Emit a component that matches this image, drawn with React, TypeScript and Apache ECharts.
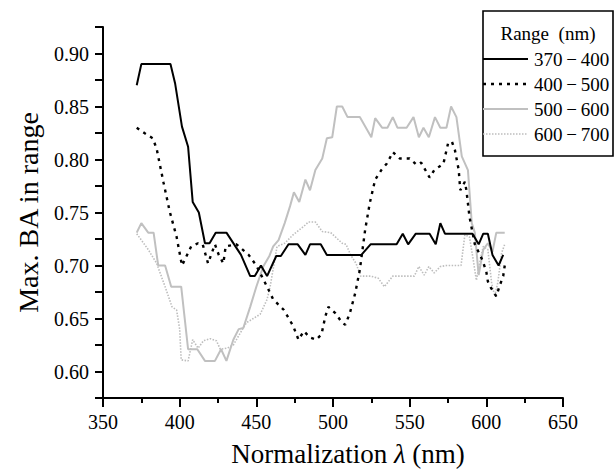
import React, { useEffect, useRef } from "react";
import * as echarts from "echarts";

const seriesNames = ["370\u2009\u2212\u2009400", "400\u2009\u2212\u2009500", "500\u2009\u2212\u2009600", "600\u2009\u2212\u2009700"];
const legendTitle = "Range  (nm)";
const xTicks = [350, 400, 450, 500, 550, 600, 650];
const yTicks = [0.6, 0.65, 0.7, 0.75, 0.8, 0.85, 0.9];

const range370to400 = [
  [372, 0.87], [375, 0.89], [394, 0.89], [397, 0.872], [401.5, 0.831], [405.5, 0.812],
  [408.5, 0.76], [412.5, 0.75], [416.5, 0.721], [419.5, 0.721], [423.5, 0.731], [430.5, 0.731],
  [440, 0.71], [446, 0.69], [449, 0.69], [453, 0.7], [457, 0.69], [463, 0.709], [466, 0.709],
  [471, 0.72], [477, 0.72], [482, 0.71], [485, 0.72], [492, 0.72], [496, 0.71], [518.5, 0.71],
  [524.5, 0.72], [541.5, 0.72], [545.5, 0.73], [549, 0.72], [554, 0.73], [563, 0.73],
  [567, 0.72], [570, 0.74], [573, 0.73], [591, 0.73], [595, 0.72], [598, 0.73], [601, 0.73],
  [604, 0.71], [608, 0.7], [611, 0.71],
];

const range400to500 = [
  [372, 0.83], [377, 0.825], [382.5, 0.82], [385, 0.81], [389.5, 0.778], [393.5, 0.751],
  [398, 0.727], [401.5, 0.7], [404.5, 0.709], [407.5, 0.718], [412, 0.721], [415, 0.72],
  [418.5, 0.702], [423, 0.72], [425.5, 0.71], [428.5, 0.702], [430, 0.718], [437, 0.72],
  [445, 0.71], [450, 0.7], [457, 0.68], [461, 0.668], [468, 0.658], [474, 0.643], [477.5, 0.63],
  [481, 0.638], [485, 0.632], [489, 0.63], [492.5, 0.635], [495, 0.652], [497, 0.661],
  [501.5, 0.655], [506, 0.646], [508, 0.644], [511, 0.655], [514.5, 0.674], [517.5, 0.696],
  [521, 0.734], [524, 0.759], [527.5, 0.781], [531.5, 0.79], [535, 0.796], [538, 0.804],
  [539, 0.807], [543.5, 0.801], [550, 0.801], [554.5, 0.795], [557.5, 0.797], [563, 0.783],
  [566, 0.79], [572, 0.796], [575, 0.815], [577.5, 0.817], [579.5, 0.809], [582, 0.79],
  [583, 0.771], [586, 0.779], [587, 0.771], [589, 0.746], [592.5, 0.72], [597.5, 0.705],
  [600, 0.694], [601, 0.685], [603, 0.679], [606.5, 0.671], [608.5, 0.68], [611, 0.69], [612, 0.7],
];

const range500to600 = [
  [372, 0.731], [375, 0.74], [379.5, 0.731], [383, 0.731], [386, 0.7], [390.5, 0.7],
  [394.5, 0.68], [401, 0.68], [405.5, 0.621], [411.5, 0.621], [416.5, 0.61], [423, 0.61],
  [427, 0.621], [430.5, 0.61], [435, 0.63], [438.5, 0.64], [441.5, 0.641], [446, 0.661],
  [450, 0.68], [454.5, 0.699], [458.5, 0.709], [461, 0.718], [464.5, 0.724], [468.5, 0.74],
  [472, 0.756], [474.5, 0.769], [478, 0.76], [482, 0.781], [485, 0.771], [488.5, 0.79],
  [493, 0.801], [496, 0.82], [499.5, 0.821], [502.5, 0.85], [506, 0.85], [509.5, 0.84],
  [517.5, 0.84], [525, 0.821], [527.5, 0.839], [532, 0.83], [535.5, 0.83], [539, 0.84],
  [542, 0.83], [548, 0.83], [552.5, 0.84], [556, 0.821], [559, 0.83], [562.5, 0.821],
  [566.5, 0.84], [570, 0.83], [574, 0.83], [577, 0.85], [580.5, 0.84], [584, 0.803],
  [588, 0.79], [590.5, 0.74], [592.5, 0.731], [595, 0.691], [598, 0.715], [601, 0.721],
  [604, 0.713], [606.5, 0.731], [612, 0.731],
];

const range600to700 = [
  [372, 0.73], [379.5, 0.715], [385, 0.702], [390.5, 0.68], [395, 0.661], [398, 0.658],
  [400, 0.64], [401, 0.611], [405.5, 0.61], [408.5, 0.63], [412, 0.622], [415.5, 0.629],
  [420, 0.631], [424, 0.629], [426.5, 0.621], [431, 0.622], [435, 0.625], [439, 0.635],
  [443.5, 0.646], [448, 0.65], [452.5, 0.654], [457, 0.668], [459, 0.68], [463.5, 0.718],
  [468.5, 0.721], [474, 0.729], [481, 0.737], [484, 0.741], [488.5, 0.741], [493, 0.732],
  [498.5, 0.731], [501.5, 0.727], [506, 0.721], [508.5, 0.72], [511.5, 0.71], [515, 0.702],
  [518, 0.69], [524.5, 0.69], [529.5, 0.688], [533.5, 0.68], [539, 0.69], [553, 0.69],
  [556, 0.699], [559.5, 0.691], [562.5, 0.699], [566, 0.693], [570, 0.699], [574, 0.7],
  [583.5, 0.7], [586, 0.729], [589, 0.727], [591.5, 0.705], [593.5, 0.686], [596, 0.705],
  [598, 0.718], [601, 0.715], [603.5, 0.683], [605.5, 0.671], [607.5, 0.684], [610, 0.712],
  [612, 0.72],
];

const FONT = "'Liberation Serif', 'Times New Roman', serif";

const lineStyles = [
  { color: "#000000", width: 2, type: "solid" as any },
  { color: "#000000", width: 2.4, type: [3, 5] as any },
  { color: "#c0c0c0", width: 2, type: "solid" as any },
  { color: "#bdbdbd", width: 1.6, type: [1.5, 1.5] as any },
];

export default function App() {
  const ref = useRef<HTMLDivElement>(null);
  useEffect(() => {
    document.body.style.margin = "0";
    if (!ref.current) return;
    const chart = echarts.init(ref.current, undefined, { renderer: "svg" });
    const datasets = [range370to400, range400to500, range500to600, range600to700];
    const zs = [5, 4, 3, 2];

    const legendX = 483;
    const legendY = 11;
    const rowY = [59, 84, 109, 134];
    const legendGraphics: any[] = [
      {
        type: "rect",
        shape: { x: legendX, y: legendY, width: 130, height: 145 },
        style: { fill: "#ffffff", stroke: "#000000", lineWidth: 1.6 },
        z: 10,
      },
      {
        type: "text",
        x: 548,
        y: 33,
        style: {
          text: legendTitle,
          font: `19px ${FONT}`,
          fill: "#000",
          align: "center",
          verticalAlign: "middle",
        },
        z: 11,
      },
    ];
    seriesNames.forEach((n, i) => {
      const ls = lineStyles[i];
      legendGraphics.push({
        type: "line",
        shape: { x1: legendX, y1: rowY[i], x2: 528, y2: rowY[i] },
        style: {
          stroke: ls.color,
          lineWidth: ls.width,
          lineDash: Array.isArray(ls.type) ? ls.type : null,
        },
        z: 11,
      });
      legendGraphics.push({
        type: "text",
        x: 534,
        y: rowY[i],
        style: {
          text: n,
          font: `19px ${FONT}`,
          fill: "#000",
          align: "left",
          verticalAlign: "middle",
        },
        z: 11,
      });
    });

    chart.setOption({
      animation: false,
      backgroundColor: "#ffffff",
      grid: { left: 103, right: 52, top: 27, bottom: 72, containLabel: false, outerBoundsMode: "none" } as any,
      xAxis: {
        type: "value",
        min: xTicks[0],
        max: xTicks[xTicks.length - 1],
        interval: 50,
        name: "Normalization {i|\u03bb} (nm)",
        nameLocation: "middle",
        nameGap: 42,
        nameTextStyle: {
          fontFamily: FONT,
          fontSize: 27,
          color: "#000",
          padding: [0, 0, 0, 30],
          rich: { i: { fontFamily: FONT, fontSize: 27, fontStyle: "italic", color: "#000" } },
        },
        axisLine: { show: true, onZero: false, lineStyle: { color: "#000", width: 2 } },
        axisTick: { show: true, inside: false, length: 9, lineStyle: { color: "#000", width: 2 } },
        minorTick: { show: true, splitNumber: 2, length: 5, lineStyle: { color: "#000", width: 2 } },
        splitLine: { show: false },
        axisLabel: { fontFamily: FONT, fontSize: 20, color: "#000", margin: 14 },
      },
      yAxis: {
        type: "value",
        min: 0.575,
        max: 0.925,
        interval: 0.025,
        name: "Max. BA in range",
        nameLocation: "middle",
        nameGap: 61,
        nameTextStyle: { fontFamily: FONT, fontSize: 28, color: "#000" },
        axisLine: { show: true, onZero: false, lineStyle: { color: "#000", width: 2 } },
        axisTick: { show: true, inside: false, length: 8, lineStyle: { color: "#000", width: 2 } },
        splitLine: { show: false },
        axisLabel: {
          fontFamily: FONT,
          fontSize: 20,
          color: "#000",
          margin: 14,
          showMinLabel: true,
          showMaxLabel: true,
          formatter: (v: number) =>
            yTicks.some((t) => Math.abs(t - v) < 1e-6) ? v.toFixed(2) : "",
        },
      },
      series: datasets.map((d, i) => ({
        type: "line",
        name: seriesNames[i],
        data: d,
        showSymbol: false,
        symbol: "none",
        z: zs[i],
        lineStyle: lineStyles[i],
        itemStyle: { color: lineStyles[i].color },
      })),
      graphic: legendGraphics,
    });
    return () => chart.dispose();
  }, []);
  return <div ref={ref} style={{ width: 615, height: 470 }} />;
}
